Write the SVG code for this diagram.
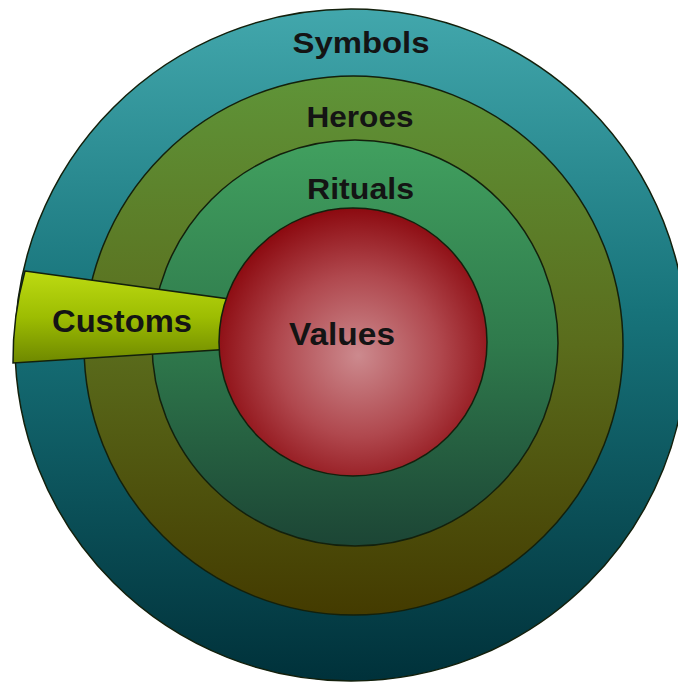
<svg xmlns="http://www.w3.org/2000/svg" width="678" height="686" viewBox="0 0 678 686">
  <defs>
    <linearGradient id="gOuter" x1="0" y1="0" x2="0" y2="1">
      <stop offset="0" stop-color="#42a7ac"/>
      <stop offset="0.45" stop-color="#17737a"/>
      <stop offset="1" stop-color="#00313a"/>
    </linearGradient>
    <linearGradient id="gHeroes" x1="0" y1="0" x2="0" y2="1">
      <stop offset="0" stop-color="#5f9438"/>
      <stop offset="0.5" stop-color="#5a6c1c"/>
      <stop offset="1" stop-color="#443b00"/>
    </linearGradient>
    <linearGradient id="gRituals" x1="0" y1="0" x2="0" y2="1">
      <stop offset="0" stop-color="#41a05f"/>
      <stop offset="0.5" stop-color="#2f7a4c"/>
      <stop offset="1" stop-color="#1c4535"/>
    </linearGradient>
    <linearGradient id="gCustoms" x1="0" y1="0" x2="0" y2="1">
      <stop offset="0" stop-color="#bddb12"/>
      <stop offset="0.5" stop-color="#9dbd02"/>
      <stop offset="1" stop-color="#6e8800"/>
    </linearGradient>
    <radialGradient id="gValues" cx="0.52" cy="0.55" r="0.55">
      <stop offset="0" stop-color="#cc8a8e"/>
      <stop offset="0.55" stop-color="#b0484e"/>
      <stop offset="1" stop-color="#8c0a10"/>
    </radialGradient>
  </defs>
  <style>
    .ring { stroke: #13200c; stroke-width: 1.5; }
    .lbl { font-family: "Liberation Sans", Arial, sans-serif; font-weight: bold; fill: #141414; text-anchor: middle; }
  </style>
  <rect width="678" height="686" fill="#ffffff"/>
  <g id="symbols">
    <circle class="ring" cx="351" cy="345" r="336" fill="url(#gOuter)"/>
    <text class="lbl" x="361" y="53" font-size="29" textLength="137" lengthAdjust="spacingAndGlyphs">Symbols</text>
  </g>
  <g id="heroes">
    <circle class="ring" cx="353.5" cy="345.5" r="269.5" fill="url(#gHeroes)"/>
    <text class="lbl" x="360" y="127" font-size="29" textLength="107" lengthAdjust="spacingAndGlyphs">Heroes</text>
  </g>
  <g id="rituals">
    <circle class="ring" cx="355" cy="343" r="203" fill="url(#gRituals)"/>
    <text class="lbl" x="360.5" y="199" font-size="30" textLength="107" lengthAdjust="spacingAndGlyphs">Rituals</text>
  </g>
  <g id="customs">
    <path class="ring" d="M 25 271 L 240 300.5 L 240 348.5 L 13 363 A 336 336 0 0 1 25 271 Z" fill="url(#gCustoms)"/>
    <text class="lbl" x="122" y="332" font-size="32" textLength="140" lengthAdjust="spacingAndGlyphs">Customs</text>
  </g>
  <g id="values">
    <circle class="ring" cx="353" cy="342" r="134" fill="url(#gValues)"/>
    <text class="lbl" x="342" y="345" font-size="32" textLength="106" lengthAdjust="spacingAndGlyphs">Values</text>
  </g>
</svg>
